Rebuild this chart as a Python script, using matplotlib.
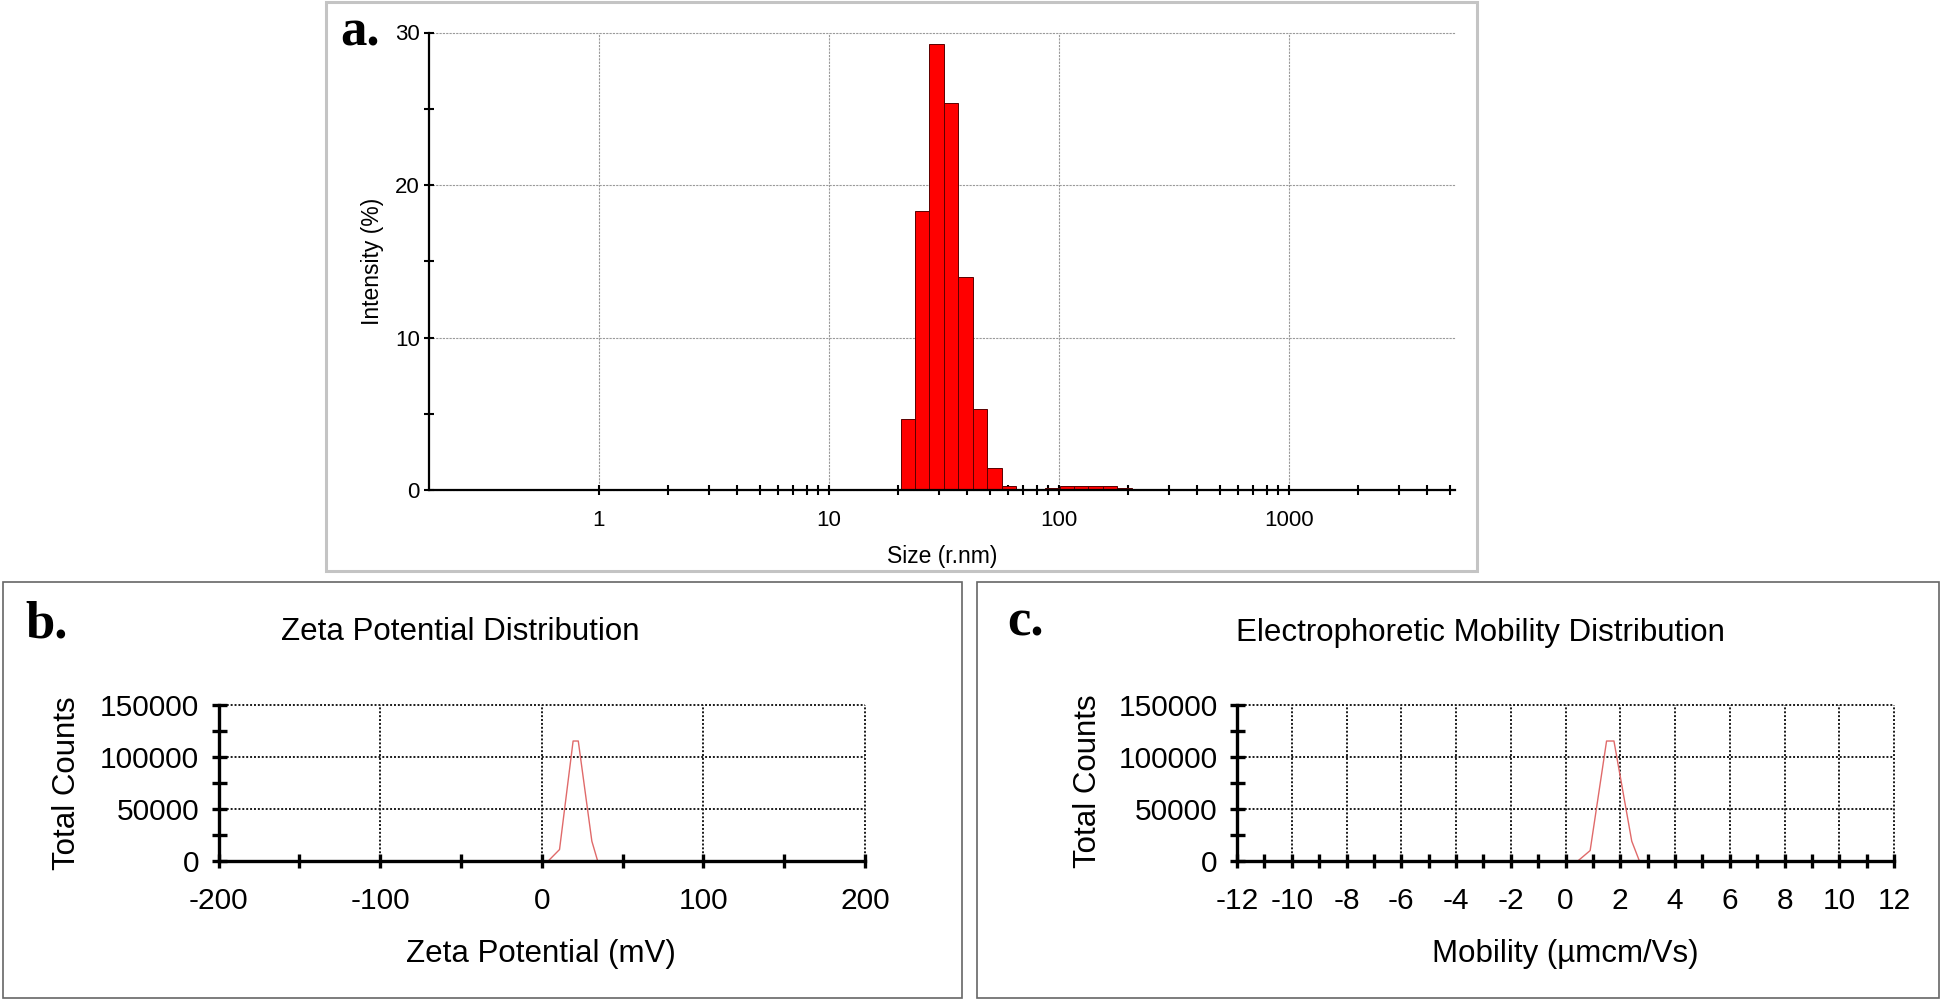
import matplotlib
matplotlib.use("Agg")
import matplotlib.pyplot as plt
from matplotlib.patches import Rectangle
from matplotlib.ticker import FixedLocator, FixedFormatter, NullFormatter

plt.rcParams['font.family'] = ['Liberation Sans', 'DejaVu Sans']
plt.rcParams['axes.unicode_minus'] = False

# ---------------- data ----------------
# (a) size distribution by intensity: bin centres (r.nm) and intensity (%)
size_bins = [22.0, 25.5, 29.4, 34.0, 39.3, 45.4, 52.5, 60.6, 93.5, 108.1, 124.9, 144.3, 166.7, 192.7, 222.6]
intensity = [4.63, 18.3, 29.25, 25.37, 13.94, 5.29, 1.42, 0.24, 0.10, 0.23, 0.24, 0.24, 0.23, 0.10, 0.08]
LOG_BIN = 0.0628  # width of one size class in log10 units
size_ticks = [1, 10, 100, 1000]
size_ticklabels = ['1', '10', '100', '1000']

# (b) zeta potential distribution
zeta_mv = [-150, 4, 11, 19.4, 22.6, 31, 34.6, 150]
zeta_counts = [0, 0, 11000, 115000, 115000, 19000, 0, 0]
zeta_ticks = [-200, -100, 0, 100, 200]
zeta_ticklabels = ['-200', '-100', '0', '100', '200']

# (c) electrophoretic mobility distribution
mobility = [-11.7, 0.45, 0.9, 1.5, 1.77, 2.42, 2.7, 11.7]
mob_counts = [0, 0, 10000, 115000, 115000, 19000, 0, 0]
mob_ticks = [-12, -10, -8, -6, -4, -2, 0, 2, 4, 6, 8, 10, 12]
mob_ticklabels = [str(v) for v in mob_ticks]

count_ticks = [0, 50000, 100000, 150000]
count_ticklabels = ['0', '50000', '100000', '150000']

# ---------------- layout helpers (pixel coordinates) ----------------
W, H = 1944, 1002
fig = plt.figure(figsize=(W / 100, H / 100), dpi=100)
fig.patch.set_facecolor('white')


def fx(px):
    return px / W


def fy(py):
    return 1 - py / H


def axes_px(l, t, r, b):
    return fig.add_axes([l / W, 1 - b / H, (r - l) / W, (b - t) / H])


def box(l, t, r, b, color, lw):
    fig.patches.append(Rectangle((fx(l), fy(b)), (r - l) / W, (b - t) / H,
                                 transform=fig.transFigure, fill=False,
                                 edgecolor=color, linewidth=lw, zorder=0))


# panel frames
box(326, 2, 1477, 571, '#c4c4c4', 2.2)
box(3, 582, 962, 998, '#666666', 1.2)
box(977, 582, 1939, 998, '#666666', 1.2)

# ---------------- panel a ----------------
axa = axes_px(429, 32.5, 1455, 490)
axa.set_xscale('log')
lefts = [c * 10 ** (-LOG_BIN / 2) for c in size_bins]
rights = [c * 10 ** (LOG_BIN / 2) for c in size_bins]
widths = [r - l for l, r in zip(lefts, rights)]
axa.bar(lefts, intensity, width=widths, align='edge', color='#ff0000',
        edgecolor='#5a0000', linewidth=0.7, zorder=3)
axa.set_xlim(0.1824, 5270)
axa.set_ylim(0, 30)
for s in ['top', 'right']:
    axa.spines[s].set_visible(False)
for s in ['left', 'bottom']:
    axa.spines[s].set_linewidth(1.6)
    axa.spines[s].set_zorder(5)
axa.xaxis.set_major_locator(FixedLocator(size_ticks))
axa.xaxis.set_major_formatter(FixedFormatter(size_ticklabels))
minor_sizes = [m * d for d in (1, 10, 100) for m in range(2, 10)] + [2000, 3000, 4000, 5000]
axa.xaxis.set_minor_locator(FixedLocator(minor_sizes))
axa.xaxis.set_minor_formatter(NullFormatter())
axa.yaxis.set_major_locator(FixedLocator([0, 10, 20, 30]))
axa.yaxis.set_minor_locator(FixedLocator([5, 15, 25]))
axa.tick_params(axis='x', which='both', direction='inout', length=7.5, width=1.5,
                pad=10.5, labelsize=16)
axa.tick_params(axis='y', which='both', direction='inout', length=7.5, width=1.5,
                pad=3, labelsize=16)
axa.grid(True, which='major', color='#9a9a9a', linestyle=(0, (2, 1)), linewidth=0.8, zorder=1)
for gl in axa.get_ygridlines():
    gl.set_clip_on(False)
axa.set_axisbelow(True)
fig.text(fx(372), fy(261), 'Intensity (%)', rotation=90, ha='center', va='center', fontsize=16.5)
fig.text(fx(942), fy(556), 'Size (r.nm)', ha='center', va='center', fontsize=16.5)
fig.text(fx(340), fy(45), 'a.', fontsize=38, fontweight='bold',
         family=['Liberation Serif', 'DejaVu Serif'], ha='left', va='baseline')


# ---------------- panels b and c ----------------
def zeta_style(ax, xmajor, xlabels, xminor):
    for s in ['top', 'right']:
        ax.spines[s].set_visible(False)
    for s in ['left', 'bottom']:
        ax.spines[s].set_linewidth(2.4)
        ax.spines[s].set_zorder(5)
    ax.xaxis.set_major_locator(FixedLocator(xmajor))
    ax.xaxis.set_major_formatter(FixedFormatter(xlabels))
    ax.xaxis.set_minor_locator(FixedLocator(xminor))
    ax.yaxis.set_major_locator(FixedLocator(count_ticks))
    ax.yaxis.set_major_formatter(FixedFormatter(count_ticklabels))
    ax.yaxis.set_minor_locator(FixedLocator([25000, 75000, 125000]))
    ax.tick_params(axis='x', which='both', direction='inout', length=9.4, width=2.4,
                   pad=14, labelsize=21.5)
    ax.tick_params(axis='y', which='both', direction='inout', length=10.8, width=2.4,
                   pad=8.5, labelsize=21.5)
    ax.grid(True, which='major', color='#1a1a1a', linestyle=(0, (1, 1)), linewidth=1.4, zorder=1)
    for gl in ax.get_xgridlines() + ax.get_ygridlines():
        gl.set_clip_on(False)
    ax.set_axisbelow(True)


axb = axes_px(218.5, 704.5, 865, 861)
axb.plot(zeta_mv, zeta_counts, color='#e06a6a', linewidth=1.0, zorder=3)
axb.set_xlim(-200, 200)
axb.set_ylim(0, 150000)
zeta_style(axb, zeta_ticks, zeta_ticklabels, [-150, -50, 50, 150])
fig.text(fx(460), fy(640), 'Zeta Potential Distribution', ha='center', va='baseline', fontsize=22.5)
fig.text(fx(541), fy(962), 'Zeta Potential (mV)', ha='center', va='baseline', fontsize=22.5)
fig.text(fx(67), fy(783), 'Total Counts', rotation=90, ha='center', va='center', fontsize=22.5)
fig.text(fx(25), fy(637), 'b.', fontsize=38, fontweight='bold',
         family=['Liberation Serif', 'DejaVu Serif'], ha='left', va='baseline')

axc = axes_px(1237, 704.5, 1894, 861)
axc.plot(mobility, mob_counts, color='#e06a6a', linewidth=1.0, zorder=3)
axc.set_xlim(-12, 12)
axc.set_ylim(0, 150000)
zeta_style(axc, mob_ticks, mob_ticklabels, list(range(-11, 12, 2)))
fig.text(fx(1480), fy(641), 'Electrophoretic Mobility Distribution', ha='center', va='baseline', fontsize=22.5)
fig.text(fx(1565), fy(962), 'Mobility (µmcm/Vs)', ha='center', va='baseline', fontsize=22.5)
fig.text(fx(1088), fy(781), 'Total Counts', rotation=90, ha='center', va='center', fontsize=22.5)
fig.text(fx(1007), fy(636), 'c.', fontsize=38, fontweight='bold',
         family=['Liberation Serif', 'DejaVu Serif'], ha='left', va='baseline')

fig.savefig('out.png', dpi=100, facecolor='white')
